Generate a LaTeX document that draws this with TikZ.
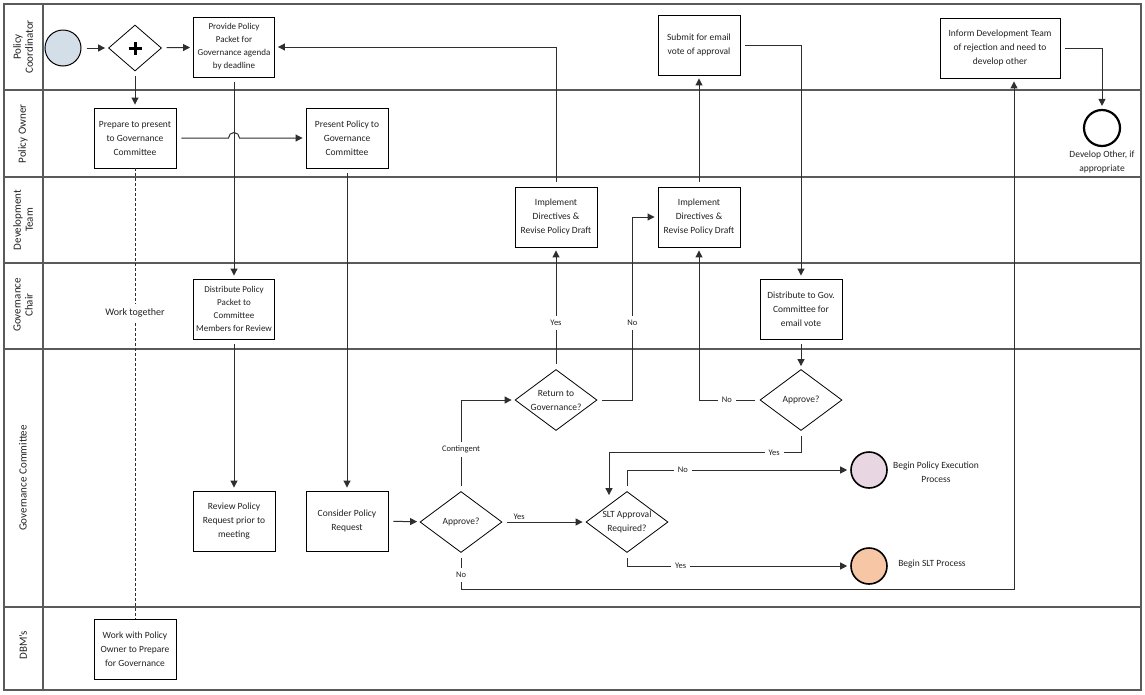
\documentclass[tikz,border=0pt]{standalone}
\usepackage{fontspec}
\setmainfont{Carlito}
\usetikzlibrary{shapes.geometric,arrows.meta,calc}
\definecolor{ln}{HTML}{2E2E2E}
\definecolor{lanec}{HTML}{5A5A5A}
\definecolor{txt}{HTML}{222222}
\definecolor{startc}{HTML}{D3DEE9}
\definecolor{execc}{HTML}{E8D6E2}
\definecolor{sltc}{HTML}{F7C6A4}
\begin{document}
\begin{tikzpicture}[x=1pt,y=-1pt,
  box/.style={draw=black, line width=0.9pt, fill=white, minimum width=82pt, minimum height=60pt,
    align=center, font=\fontsize{9.5}{14}\selectfont, text=txt, inner sep=1pt},
  smallbox/.style={box, font=\fontsize{9}{13}\selectfont},
  dia/.style={draw=black, line width=0.8pt, diamond, fill=white, minimum width=82pt, minimum height=61pt, inner sep=0pt},
  dtxt/.style={align=center, font=\fontsize{9.5}{14}\selectfont, text=txt, inner sep=0pt},
  gate/.style={draw=black, line width=0.8pt, diamond, fill=white, minimum width=53pt, minimum height=46pt, inner sep=0pt},
  evt/.style={circle, draw=black, line width=1.6pt, minimum size=36pt, inner sep=0pt},
  txtn/.style={align=center, font=\fontsize{9.5}{14}\selectfont, text=txt, inner sep=0pt},
  conn/.style={draw=ln, line width=1pt, shorten <=5pt, shorten >=3pt},
  arr/.style={conn, -{Triangle[length=7pt,width=7pt]}},
  assoc/.style={draw=ln, line width=0.8pt, dashed, dash pattern=on 3pt off 2pt},
  lbl/.style={fill=white, font=\fontsize{8.5}{10}\selectfont, text=txt, inner sep=4pt},
  lbln/.style={font=\fontsize{8.5}{10}\selectfont, text=txt, inner sep=2pt},
  lane/.style={draw=lanec, line width=1.4pt},
  lanetxt/.style={rotate=90, align=center, font=\fontsize{11}{12}\selectfont, text=txt}
]
\useasboundingbox (0,0) rectangle (1145,694);
% pool and lanes
\draw[lane] (4,4) rectangle (1141,690);
\draw[lane] (43,4) -- (43,690);
\foreach \yy in {90,177,263,349,607} \draw[lane] (4,\yy) -- (1141,\yy);
\node[lanetxt] (l1) at (23,47) {Policy\\Coordinator};
\node[lanetxt] (l2) at (23,134) {Policy Owner};
\node[lanetxt] (l3) at (23,220) {Development\\Team};
\node[lanetxt] (l4) at (23,305) {Governance\\Chair};
\node[lanetxt] (l5) at (23,478) {Governance Committee};
\node[lanetxt] (l6) at (23,645) {DBM’s};

% nodes
\node[evt, line width=1pt, fill=startc] (start) at (63,48) {};
\node[gate] (gw) at (135,48) {};
\draw[line width=3pt] ([xshift=-6.5pt]gw.center) -- ([xshift=6.5pt]gw.center);
\draw[line width=3pt] ([yshift=-6.5pt]gw.center) -- ([yshift=6.5pt]gw.center);
\node[smallbox, minimum width=81pt] (prov) at (234,47) {Provide Policy\\Packet for\\Governance agenda\\by deadline};
\node[box] (prep) at (135,138) {Prepare to present\\to Governance\\Committee};
\node[box] (pres) at (347,138) {Present Policy to\\Governance\\Committee};
\node[box] (sub) at (699,45) {Submit for email\\vote of approval};
\node[box, minimum width=120pt] (inf) at (1000,48) {Inform Development Team\\of rejection and need to\\develop other};
\node[evt, line width=2.2pt, fill=white] (endev) at (1102,128) {};
\node[txtn] (endl) at (1102,162) {Develop Other, if\\appropriate};
\node[box] (imp1) at (556,217) {Implement\\Directives \&\\Revise Policy Draft};
\node[box] (imp2) at (699,217) {Implement\\Directives \&\\Revise Policy Draft};
\node[smallbox, minimum width=81pt] (dist) at (234,309) {Distribute Policy\\Packet to\\Committee\\Members for Review};
\node[box] (dg) at (801,309) {Distribute to Gov.\\Committee for\\email vote};
\node[dia, label={[dtxt]center:Return to\\Governance?}] (ret) at (556,400) {};
\node[dia, label={[dtxt]center:Approve?}] (ap2) at (801,400) {};
\node[box] (rev) at (234,521) {Review Policy\\Request prior to\\meeting};
\node[box] (cons) at (347,521) {Consider Policy\\Request};
\node[dia, label={[dtxt]center:Approve?}] (ap1) at (461,522) {};
\node[dia, label={[dtxt]center:SLT Approval\\Required?}] (slt) at (627,522) {};
\node[evt, fill=execc] (bpe) at (869,470) {};
\node[txtn] (bpel) at (936,472) {Begin Policy Execution\\Process};
\node[evt, fill=sltc] (bslt) at (869,566) {};
\node[txtn] (bsltl) at (932,564) {Begin SLT Process};
\node[box] (wdbm) at (135,649) {Work with Policy\\Owner to Prepare\\for Governance};
\coordinate (sltin) at ([xshift=-18pt,yshift=-7pt]slt.north);

% connectors
\draw[arr] (start) -- (gw);
\draw[arr] (gw) -- (prov);
\draw[arr] (gw) -- (prep);
\draw[arr] (prep.east) -- ([xshift=-5.5pt]prov.south |- prep.east) arc[start angle=180,end angle=0,radius=5.5pt] -- (pres.west);
\draw[arr] (prov) -- (dist);
\draw[arr] (dist) -- (rev);
\draw[arr] (pres) -- (cons);
\draw[arr] (cons) -- (ap1);
\draw[arr] (ap1) -- node[lbln, above, pos=0.2]{Yes} (slt);
\draw[arr] (ap1.north) |- node[lbl, pos=0.23]{Contingent} (ret.west);
\draw[arr] (ap1.south) -- node[lbl, pos=0.6]{No} ++(0,37) -| ([xshift=14pt]inf.south);
\draw[arr] (ret.north) -- node[lbl, pos=0.38]{Yes} (imp1.south);
\draw[arr] (ret.east) -- ++(35,0) |- node[lbl, pos=0.21]{No} (imp2.west);
\draw[arr] (imp1.north) |- (prov.east);
\draw[arr] (imp2.north) -- (sub.south);
\draw[arr] (sub.east) -| (dg.north);
\draw[arr] (dg.south) -- (ap2.north);
\draw[arr] (ap2.west) -| node[lbl, pos=0.27]{No} (imp2.south);
\draw[arr] (ap2.south) -- ++(0,22) -| node[lbl, pos=0.07]{Yes} (sltin);
\draw[arr] (slt.north) |- node[lbl, pos=0.625]{No} (bpe.west);
\draw[arr] (slt.south) |- node[lbl, pos=0.62]{Yes} (bslt.west);
\draw[arr] (inf.east) -| (endev.north);
\draw[assoc] (prep.south) -- node[lbl, font=\fontsize{10}{12}\selectfont, pos=0.32]{Work together} (wdbm.north);
\end{tikzpicture}
\end{document}
